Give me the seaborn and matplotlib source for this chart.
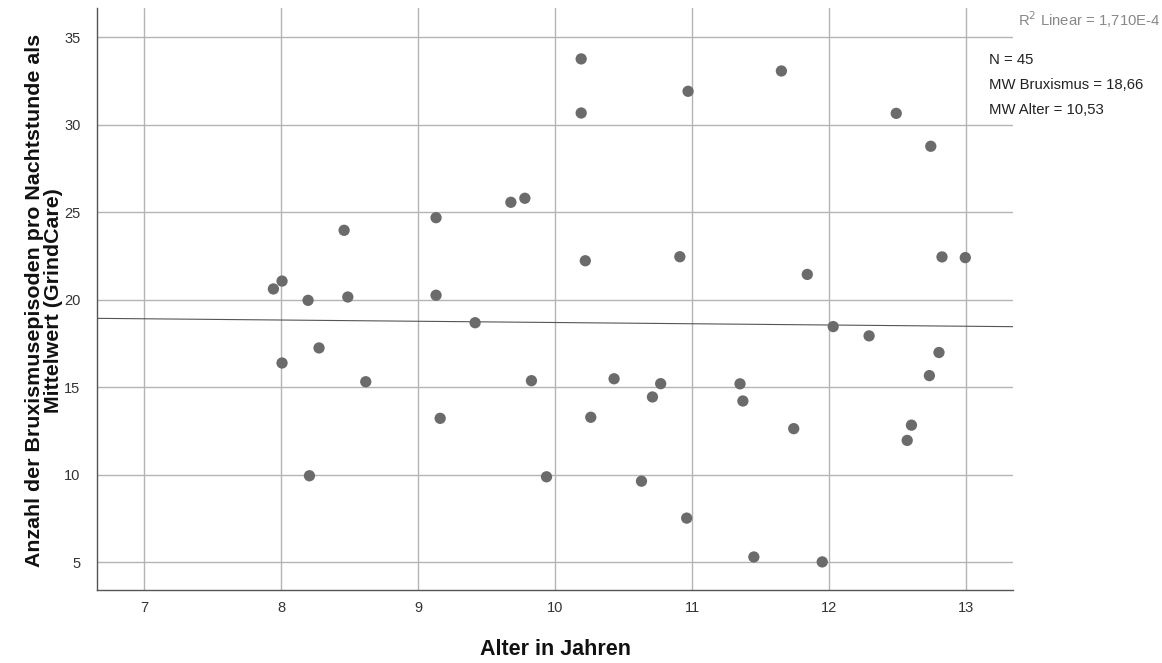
import numpy as np
import pandas as pd
import matplotlib
matplotlib.use("Agg")
import matplotlib.pyplot as plt
import seaborn as sns

alter = [9.131, 8.46, 8.007, 7.944, 8.197, 8.487, 9.131, 9.416, 8.277, 8.007, 8.618, 9.161, 8.207,
         10.19, 10.97, 10.19, 9.677, 9.779, 10.22, 10.91, 9.827, 10.43, 10.77, 10.71, 10.26, 9.937, 10.63, 10.96,
         11.651, 12.489, 12.741, 12.823, 12.993, 11.84, 12.029, 12.291, 12.801, 12.731, 11.349, 11.37, 11.741,
         12.60, 12.569, 11.45, 11.949]
bruxismus = [24.69, 23.97, 21.07, 20.62, 19.97, 20.16, 20.26, 18.69, 17.25, 16.39, 15.32, 13.23, 9.95,
             33.76, 31.91, 30.67, 25.57, 25.80, 22.23, 22.46, 15.38, 15.49, 15.21, 14.45, 13.29, 9.89, 9.64, 7.53,
             33.07, 30.65, 28.77, 22.45, 22.41, 21.45, 18.47, 17.94, 16.99, 15.67, 15.20, 14.22, 12.64,
             12.84, 11.97, 5.31, 5.03]
x_ticks = [7, 8, 9, 10, 11, 12, 13]
y_ticks = [5, 10, 15, 20, 25, 30, 35]
x_label = "Alter in Jahren"
y_label = "Anzahl der Bruxismusepisoden pro Nachtstunde als\nMittelwert (GrindCare)"
info_lines = ["N = 45", "MW Bruxismus = 18,66", "MW Alter = 10,53"]
r2_text = "R$^2$ Linear = 1,710E-4"

df = pd.DataFrame({"Alter": alter, "Bruxismus": bruxismus})

sns.set_theme(style="white")
plt.rcParams["font.family"] = ["Liberation Sans", "DejaVu Sans"]

fig = plt.figure(figsize=(11.62, 6.63), dpi=100)
ax = fig.add_axes([0.0835, 0.110, 0.7885, 0.878])
ax.set_xlim(6.657, 13.343)
ax.set_ylim(3.42, 36.67)
ax.set_xticks(x_ticks)
ax.set_yticks(y_ticks)
ax.grid(True, color="#b4b4b4", linewidth=1.0)
ax.set_axisbelow(True)

sns.scatterplot(data=df, x="Alter", y="Bruxismus", ax=ax, color="#6b6b6b",
                s=66, edgecolor="none", linewidth=0, zorder=3)
sns.regplot(data=df, x="Alter", y="Bruxismus", ax=ax, scatter=False, ci=None,
            truncate=False, line_kws={"color": "#555555", "linewidth": 0.8, "zorder": 2})
ax.set_xlim(6.657, 13.343)

for s in ["top", "right"]:
    ax.spines[s].set_visible(False)
for s in ["left", "bottom"]:
    ax.spines[s].set_color("#555555")
    ax.spines[s].set_linewidth(1.0)

ax.tick_params(axis="both", length=0, labelsize=10.5, colors="#333333")
ax.tick_params(axis="y", pad=12)
ax.tick_params(axis="x", pad=8)
ax.set_xlabel(x_label, fontsize=15.5, fontweight="bold", color="#111111")
ax.xaxis.set_label_coords(0.5, -0.084)
ax.set_ylabel(y_label, fontsize=15.4, fontweight="bold", color="#111111", linespacing=1.0)
ax.yaxis.set_label_coords(-0.037, 0.497)

fig.text(0.9985, 0.970, r2_text, ha="right", va="center", fontsize=10.7, color="#888888")
for i, t in enumerate(info_lines):
    fig.text(0.851, 0.9095 - i * 0.0377, t, ha="left", va="center", fontsize=10.7, color="#222222")

fig.savefig("out.png", dpi=100)
